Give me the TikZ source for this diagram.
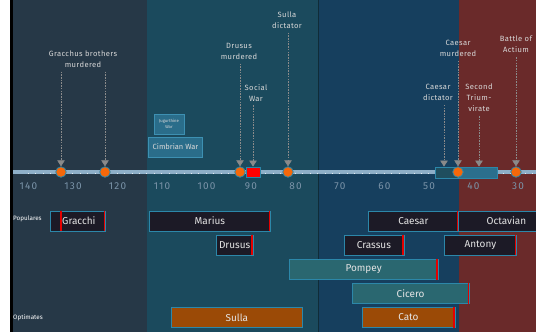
\documentclass[tikz,border=0pt]{standalone}
\usepackage{fontspec}
\setmainfont{Fira Sans}
\usetikzlibrary{arrows.meta}
\definecolor{pone}{HTML}{263847}
\definecolor{ptwo}{HTML}{1B4A5D}
\definecolor{pthree}{HTML}{163F5E}
\definecolor{pfour}{HTML}{6A2A2A}
\definecolor{axisc}{HTML}{8EAFC8}
\definecolor{tickc}{HTML}{7A93A8}
\definecolor{evtc}{HTML}{D8D8D8}
\definecolor{arrc}{HTML}{8A8A8A}
\definecolor{dotc}{HTML}{F5680A}
\definecolor{edgec}{HTML}{2C87A9}
\definecolor{darkfill}{HTML}{1C1A26}
\definecolor{tealfill}{HTML}{2A6770}
\definecolor{orfill}{HTML}{9B4A06}
\definecolor{warfill}{HTML}{2A6D8A}
\definecolor{waredge}{HTML}{3D90B2}
\definecolor{dictdark}{HTML}{1F4E5E}
\definecolor{dictlight}{HTML}{2B6F8D}
\definecolor{bartxt}{HTML}{E4E4E4}
\begin{document}
\begin{tikzpicture}[x=1pt,y=-1pt,
  evt/.style={text=evtc,font=\fontsize{7.6}{11}\selectfont\addfontfeature{LetterSpace=5},align=center,inner sep=0pt,anchor=north},
  darr/.style={draw=arrc,dashed,dash pattern=on 1.6pt off 1.1pt,line width=0.6pt,shorten <=4pt,
    -{Triangle[width=7.5pt,length=6pt,fill=arrc]}},
  dot/.style={circle,fill=dotc,draw=edgec,line width=0.8pt,minimum size=10.5pt,inner sep=0pt},
  ticklbl/.style={text=tickc,font=\fontsize{10}{12}\selectfont\addfontfeature{LetterSpace=12},inner sep=0pt},
  barbase/.style={draw=edgec,line width=0.8pt,minimum height=20pt,inner sep=0pt,anchor=north west,
    text=bartxt,font=\fontsize{10}{12}\selectfont},
  dbar/.style={barbase,fill=darkfill},
  tbar/.style={barbase,fill=tealfill},
  obar/.style={barbase,fill=orfill},
  redend/.style={draw=red!90!black,line width=1.6pt},
  warbox/.style={draw=waredge,fill=warfill,line width=0.8pt,inner sep=0pt,text=evtc,align=center},
  sidelbl/.style={text=white,font=\fontsize{6.3}{8}\selectfont,inner sep=0pt,anchor=west}
]
\useasboundingbox (0,0) rectangle (536,332);
% background panels
\fill[white] (0,0) rectangle (10,332);
\fill[black] (10,0) rectangle (13,332);
\fill[pone] (13,0) rectangle (147,332);
\fill[ptwo] (147,0) rectangle (318,332);
\fill[pthree] (318,0) rectangle (459,332);
\fill[pfour] (459,0) rectangle (536,332);
\draw[black!40!ptwo,line width=0.6pt] (318,0) -- (318,332);
% axis
\draw[axisc,line width=4pt] (13,172) -- (536,172);
\foreach \k in {0,...,70} \draw[white!75!axisc,line width=0.5pt] ({28+\k*7.42},172.6) -- ({28+\k*7.42},174);
\foreach \yr [count=\i from 0] in {140,130,120,110,100,90,80,70,60,50,40,30}
  \node[ticklbl] (t\i) at ({28.5+\i*44.5},186.5) {\yr};
% war boxes
\node[warbox,minimum width=30pt,minimum height=20pt,font=\fontsize{4.2}{6}\selectfont] (jug) at (169,124) {Jugurthine\\War};
\node[warbox,minimum width=54pt,minimum height=20pt,font=\fontsize{7.5}{9}\selectfont] (cimb) at (175.5,147) {Cimbrian War};
% markers on axis
\node[draw=edgec,fill=dictdark,line width=0.8pt,minimum width=23pt,minimum height=11pt,inner sep=0pt] (cdict) at (446.5,172.5) {};
\node[draw=edgec,fill=dictlight,line width=0.8pt,minimum width=39pt,minimum height=11pt,inner sep=0pt] (trium) at (477.5,172.5) {};
\node[fill=red,draw=edgec,line width=0.8pt,minimum width=14pt,minimum height=10pt,inner sep=0pt] (sw) at (253,172) {};
\node[dot] (gr1) at (61,172) {};
\node[dot] (gr2) at (105,172) {};
\node[dot] (drd) at (240,172) {};
\node[dot] (sud) at (288,172) {};
\node[dot] (cmd) at (458,172) {};
\node[dot] (acd) at (516,172) {};
% event labels
\node[evt] (grlbl) at (83,50.5) {Gracchus brothers\\murdered};
\node[evt] (drlbl) at (239,43) {Drusus\\murdered};
\node[evt] (swlbl) at (256,84) {Social\\War};
\node[evt] (sulbl) at (287,11.5) {Sulla\\dictator};
\node[evt] (cdlbl) at (438,84) {Caesar\\dictator};
\node[evt] (cmlbl) at (458,40) {Caesar\\murdered};
\node[evt] (trlbl) at (479,84) {Second\\Trium-\\virate};
\node[evt] (aclbl) at (516,36) {Battle of\\Actium};
\coordinate (cdx) at (444,0);
% event arrows
\draw[darr] (grlbl.south -| gr1) -- (gr1.north);
\draw[darr] (grlbl.south -| gr2) -- (gr2.north);
\draw[darr] (drlbl.south -| drd) -- (drd.north);
\draw[darr] (swlbl.south -| sw) -- (sw.north);
\draw[darr] (sulbl.south -| sud) -- (sud.north);
\draw[darr] (cdlbl.south -| cdx) -- (cdict.north -| cdx);
\draw[darr] (cmlbl.south -| cmd) -- (cmd.north);
\draw[darr] (trlbl.south) -- (trlbl.south |- trium.north);
\draw[darr] (aclbl.south -| acd) -- (acd.north);
% faction labels
\node[sidelbl] (pop) at (13,219) {Populares};
\node[sidelbl] (opt) at (13,318) {Optimates};
% people bars
\node[dbar,minimum width=55pt,label={[text=bartxt,font=\fontsize{10}{12}\selectfont,anchor=west,inner sep=0pt,xshift=12pt]west:Gracchi}] (gracchi) at (50,210.5) {};
\node[dbar,minimum width=121pt] (marius) at (149,210.5) {Marius};
\node[dbar,minimum width=36.5pt] (drusus) at (216,234.5) {Drusus};
\node[dbar,minimum width=90pt] (caesar) at (368,210.5) {Caesar};
\node[dbar,minimum width=96pt] (octavian) at (458,210.5) {Octavian};
\node[dbar,minimum width=60pt] (crassus) at (343.5,234.5) {Crassus};
\node[dbar,minimum width=72pt] (antony) at (444,234.5) {Antony};
\node[tbar,minimum width=148.5pt] (pompey) at (289,259) {Pompey};
\node[tbar,minimum width=117.5pt] (cicero) at (351.5,283) {Cicero};
\node[obar,minimum width=93pt] (cato) at (361.5,307) {Cato};
\node[obar,minimum width=131pt] (sulla) at (171,307) {Sulla};
% red end markers
\draw[redend] (gracchi.north -| gr1) -- (gracchi.south -| gr1);
\foreach \b in {gracchi,marius,drusus,caesar,crassus,antony,pompey,cicero,cato}
  \draw[redend] ([xshift=-1.2pt]\b.north east) -- ([xshift=-1.2pt]\b.south east);
\end{tikzpicture}
\end{document}
